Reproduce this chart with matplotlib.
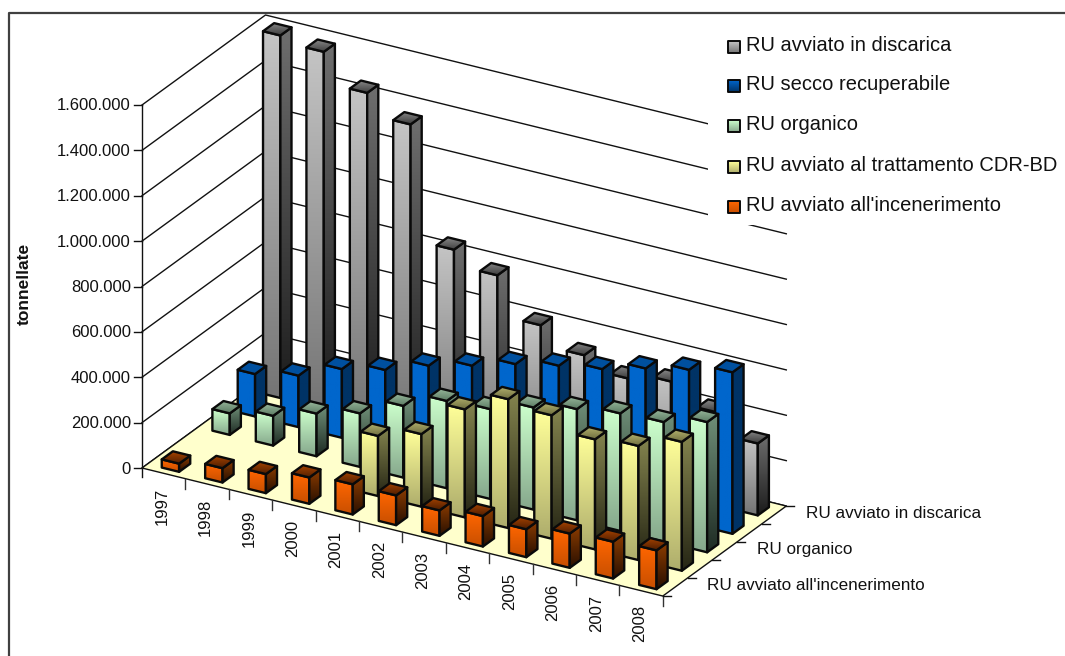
import numpy as np
import matplotlib
matplotlib.use("Agg")
import matplotlib.pyplot as plt
from matplotlib.colors import to_rgb
from matplotlib.patches import Polygon, Rectangle

plt.rcParams['font.family'] = ['Liberation Sans', 'DejaVu Sans']

anni = ["1997", "1998", "1999", "2000", "2001", "2002", "2003", "2004", "2005", "2006", "2007", "2008"]
etichette_y = [0, 200000, 400000, 600000, 800000, 1000000, 1200000, 1400000, 1600000]
etichette_serie = ["RU avviato all'incenerimento", "RU organico", "RU avviato in discarica"]

incenerimento = [36000, 63000, 84000, 116000, 133000, 131000, 112000, 134000, 123000, 151000, 162000, 171000]
trattamento = [0, 0, 0, 0, 265000, 320000, 476000, 568000, 544000, 485000, 503000, 568000]
organico = [95000, 131000, 188000, 236000, 316000, 385000, 396000, 450000, 490000, 518000, 527000, 574000]
secco = [187000, 227000, 303000, 346000, 412000, 459000, 513000, 553000, 585000, 635000, 676000, 712000]
discarica = [1598000, 1573000, 1439000, 1347000, 842000, 776000, 603000, 518000, 463000, 496000, 410000, 317000]

# dal fondo verso il davanti: nome, valori, facce (alto, basso)
serie = [
    ("RU avviato in discarica", discarica, ("#c4c4c4", "#757575"), ("#6e6e6e", "#1c1c1c"), ("#8a8a8a", "#3e3e3e")),
    ("RU secco recuperabile", secco, ("#0066cc", "#0066cc"), ("#003366", "#003366"), ("#00509f", "#00509f")),
    ("RU organico", organico, ("#ccffcc", "#86a88c"), ("#6f8f78", "#1f2c24"), ("#98b89c", "#5c7c64")),
    ("RU avviato al trattamento CDR-BD", trattamento, ("#ffff99", "#aead6c"), ("#84844e", "#262615"), ("#b4b26e", "#6f6f40")),
    ("RU avviato all'incenerimento", incenerimento, ("#ff6600", "#c84f00"), ("#8c3c00", "#2a1000"), ("#a84400", "#501e00")),
]

# proiezione obliqua: origine, passo per anno, passo per serie, pixel per tonnellata
ORIGINE = np.array([142.0, 468.0])
PASSO_X = np.array([43.4, 10.67])
PASSO_P = np.array([24.7, -18.0])
SCALA_Z = 363.0 / 1600000
BAR_X, BAR_W = 0.33, 0.40
BAR_P, BAR_D = 0.22, 0.45
PASSO_BARRE = 1.025


def proj(x, p, z=0):
    return ORIGINE + x * PASSO_X + p * PASSO_P - np.array([0, z * SCALA_Z])


def faccia(ax, punti, alto, basso, zo, lw=1.7):
    punti = np.array(punti)
    g = np.linspace(0, 1, 48)[:, None, None]
    img = np.array(to_rgb(alto))[None, None, :] * (1 - g) + np.array(to_rgb(basso))[None, None, :] * g
    ext = (punti[:, 0].min(), punti[:, 0].max(), punti[:, 1].max(), punti[:, 1].min())
    im = ax.imshow(img, extent=ext, aspect='auto', zorder=zo, interpolation='bilinear')
    im.set_clip_path(Polygon(punti, transform=ax.transData))
    ax.add_patch(Polygon(punti, fill=False, ec="#0a0a0a", lw=lw, zorder=zo, joinstyle='round'))


def barra(ax, i, j, valore, fronte, lato, sopra, zo):
    x0, x1 = i + BAR_X, i + BAR_X + BAR_W
    p0 = BAR_P + j * PASSO_BARRE
    p1 = p0 + BAR_D
    faccia(ax, [proj(x0, p0, valore), proj(x1, p0, valore), proj(x1, p0), proj(x0, p0)], *fronte, zo)
    faccia(ax, [proj(x1, p0, valore), proj(x1, p1, valore), proj(x1, p1), proj(x1, p0)], *lato, zo)
    faccia(ax, [proj(x0, p1, valore), proj(x1, p1, valore), proj(x1, p0, valore), proj(x0, p0, valore)], *sopra, zo)


fig = plt.figure(figsize=(10.65, 6.56), dpi=100, facecolor="white")
ax = fig.add_axes([0, 0, 1, 1])
ax.axis("off")

n_anni = len(anni)
n_serie = len(serie)

# griglia sulle due pareti
for v in etichette_y:
    a = proj(0, 0, v)
    b = proj(0, n_serie, v)
    c = proj(n_anni, n_serie, v)
    ax.plot([a[0], b[0], c[0]], [a[1], b[1], c[1]], color="#111111", lw=1, zorder=1)
    ax.plot([a[0] - 8, a[0]], [a[1], a[1]], color="#111111", lw=1, zorder=1)
    ax.text(a[0] - 11, a[1] + 1, f"{v:,}".replace(",", "."), ha="right", va="center", fontsize=12, color="#111111")

# pavimento
pavimento = [proj(0, 0), proj(n_anni, 0), proj(n_anni, n_serie), proj(0, n_serie)]
ax.add_patch(Polygon(pavimento, fc="#ffffcc", ec="#111111", lw=1, zorder=1.5))

top = proj(0, 0, etichette_y[-1])
ax.plot([top[0], top[0]], [top[1], ORIGINE[1] + 9], color="#111111", lw=1, zorder=1.6)

# tacche e anni
for k in range(1, n_anni + 1):
    t = proj(k, 0)
    ax.plot([t[0], t[0]], [t[1], t[1] + 10], color="#333333", lw=1, zorder=1.6)
for k, anno in enumerate(anni):
    t = proj(k + 0.5, 0)
    ax.text(t[0] - 1.5, t[1] + 14.5, anno, rotation=90, ha="center", va="top", fontsize=12, color="#111111")

# tacche e nomi sulla profondita
for k in range(n_serie + 1):
    t = proj(n_anni, k)
    ax.plot([t[0], t[0] + 8], [t[1], t[1]], color="#111111", lw=1, zorder=1.6)
for k, nome in zip([0, 2, 4], etichette_serie):
    t = proj(n_anni, k + 0.5)
    ax.text(t[0] + 32, t[1] - 1.5, nome, ha="left", va="center", fontsize=12.3, color="#111111")

# barre dal fondo al davanti
zo = 3.0
for pos, (nome, valori, fronte, lato, sopra) in enumerate(serie):
    j = n_serie - 1 - pos
    for i, valore in enumerate(valori):
        if valore > 0:
            barra(ax, i, j, valore, fronte, lato, sopra, zo)
            zo += 0.01

# legenda
ax.add_patch(Rectangle((708, 20), 352, 205, fc="white", ec="none", zorder=2))
legenda_y = [47, 86, 126, 167, 207]
for (nome, valori, fronte, lato, sopra), y in zip(serie, legenda_y):
    faccia(ax, [(727.5, y - 6), (739.5, y - 6), (739.5, y + 6), (727.5, y + 6)], fronte[0], lato[1] if nome == "RU secco recuperabile" else fronte[1], 10, lw=1.4)
    ax.text(746, y - 1.5, nome, ha="left", va="center", fontsize=14.5, color="#111111", zorder=11)

ax.text(24, 284, "tonnellate", rotation=90, ha="center", va="center", fontsize=12.5, fontweight="bold", color="#111111")

# cornice del grafico
ax.plot([9, 9, 1065], [656, 13, 13], color="#404040", lw=1.6, zorder=20)

ax.set_xlim(0, 1065)
ax.set_ylim(656, 0)
fig.savefig("out.png", dpi=100)
